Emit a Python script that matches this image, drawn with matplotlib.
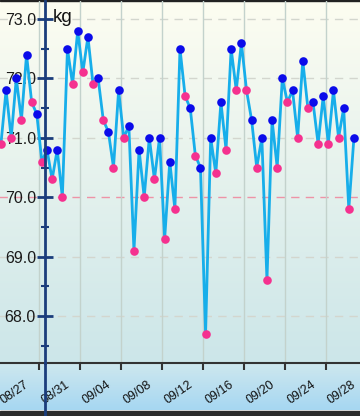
import numpy as np
import pandas as pd
import matplotlib
matplotlib.use("Agg")
import matplotlib.pyplot as plt
import matplotlib.dates as mdates
from matplotlib.colors import to_rgb

plt.rcParams["font.family"] = ["Liberation Sans", "DejaVu Sans"]

# weigh-ins, twice a day (morning / evening)
weights = [70.9, 71.8, 71.0, 72.0, 71.3, 72.4, 71.6, 71.4, 70.6, 70.8,
           70.3, 70.8, 70.0, 72.5, 71.9, 72.8, 72.1, 72.7, 71.9, 72.0,
           71.3, 71.1, 70.5, 71.8, 71.0, 71.2, 69.1, 70.8, 70.0, 71.0,
           70.3, 71.0, 69.3, 70.6, 69.8, 72.5, 71.7, 71.5, 70.7, 70.5,
           67.7, 71.0, 70.4, 71.6, 70.8, 72.5, 71.8, 72.6, 71.8, 71.3,
           70.5, 71.0, 68.6, 71.3, 70.5, 72.0, 71.6, 71.8, 71.0, 72.3,
           71.5, 71.6, 70.9, 71.7, 70.9, 71.8, 71.0, 71.5, 69.8, 71.0]
times = pd.date_range("2014-08-27 06:00", periods=len(weights), freq="12h")
tick_dates = pd.date_range("2014-08-27", periods=9, freq="4D")
y_major = [68.0, 69.0, 70.0, 71.0, 72.0, 73.0]
y_minor = [67.5, 68.5, 69.5, 70.5, 71.5, 72.5]
target = 70.0

W, H = 360, 416
fig = plt.figure(figsize=(W / 100, H / 100), dpi=100)

# background gradients
bg = fig.add_axes([0, 0, 1, 1], zorder=0)
bg.set_xlim(0, W)
bg.set_ylim(H, 0)
bg.axis("off")

def grad(c1, c2, n=200):
    a, b = np.array(to_rgb(c1)), np.array(to_rgb(c2))
    f = np.linspace(0, 1, n)[:, None]
    return (a * (1 - f) + b * f)[:, None, :]

bg.imshow(grad("#fdfdf1", "#cce6e9"), extent=[0, W, 363, 0], aspect="auto")
bg.imshow(grad("#cfe8ee", "#a6d7f2"), extent=[0, W, 410.5, 363], aspect="auto")
bg.axhspan(410.5, H, color="#2c2c2c")
bg.axhspan(0, 1.2, color="#222222")

# main chart
ax = fig.add_axes([-4 / W, 53 / H, 366 / W, 362 / H], zorder=1)
ax.patch.set_alpha(0)

x0 = mdates.date2num(pd.Timestamp("2014-08-27"))
ax.set_xlim(x0 - 0.235, x0 + 35.54)
ax.set_ylim(67.209, 73.303)

navy = "#1b3d7c"
for s in ["top", "right"]:
    ax.spines[s].set_visible(False)
ax.spines["bottom"].set_color("#333333")
ax.spines["bottom"].set_linewidth(1.5)
ax.spines["left"].set_position(("axes", 49 / 366))
ax.spines["left"].set_color(navy)
ax.spines["left"].set_linewidth(2)
ax.spines["left"].set_zorder(6)
# axis line continues down through the date strip
ax.plot([49 / 366, 49 / 366], [-0.16, 0.0], transform=ax.transAxes,
        color=navy, lw=2, clip_on=False, zorder=6)

ax.set_yticks(y_major)
ax.set_yticks(y_minor, minor=True)
ax.yaxis.set_major_formatter(matplotlib.ticker.FormatStrFormatter("%.1f"))
ax.tick_params(axis="y", which="major", direction="inout", length=11, width=2,
               color=navy, labelsize=11.5, labelcolor="#1a1a1a", pad=1)
ax.tick_params(axis="y", which="minor", direction="inout", length=6, width=1.5,
               color=navy)

ax.set_xticks(mdates.date2num(tick_dates))
ax.xaxis.set_major_formatter(mdates.DateFormatter("%m/%d"))
ax.tick_params(axis="x", direction="out", length=5, width=1.5, color="#333333",
               labelsize=9, labelcolor="#111111", pad=6)
for lab in ax.get_xticklabels():
    lab.set_rotation(35)
    lab.set_ha("left")

ax.grid(axis="x", color="#c3d2cc", lw=1)
for v in y_major:
    if v == target:
        ax.axhline(v, color="#ee93a6", lw=1, ls=(0, (6, 4.5)), zorder=1)
    else:
        ax.axhline(v, color="#d3d6ce", lw=1, ls=(0, (6, 4.5)), zorder=1)

ax.plot(times, weights, color="#17aeea", lw=2, zorder=3, solid_joinstyle="round")
wt = np.array(weights)
am = times.hour < 12
ax.plot(times[am], wt[am], "o", color="#f5318f", ms=6.2, mew=0, zorder=4)
ax.plot(times[~am], wt[~am], "o", color="#0b0bea", ms=6.2, mew=0, zorder=4)

fig.text(53 / W, 1 - 22.5 / H, "kg", fontsize=13.5, color="#111111",
         va="baseline", ha="left")

fig.savefig("out.png", dpi=100)
